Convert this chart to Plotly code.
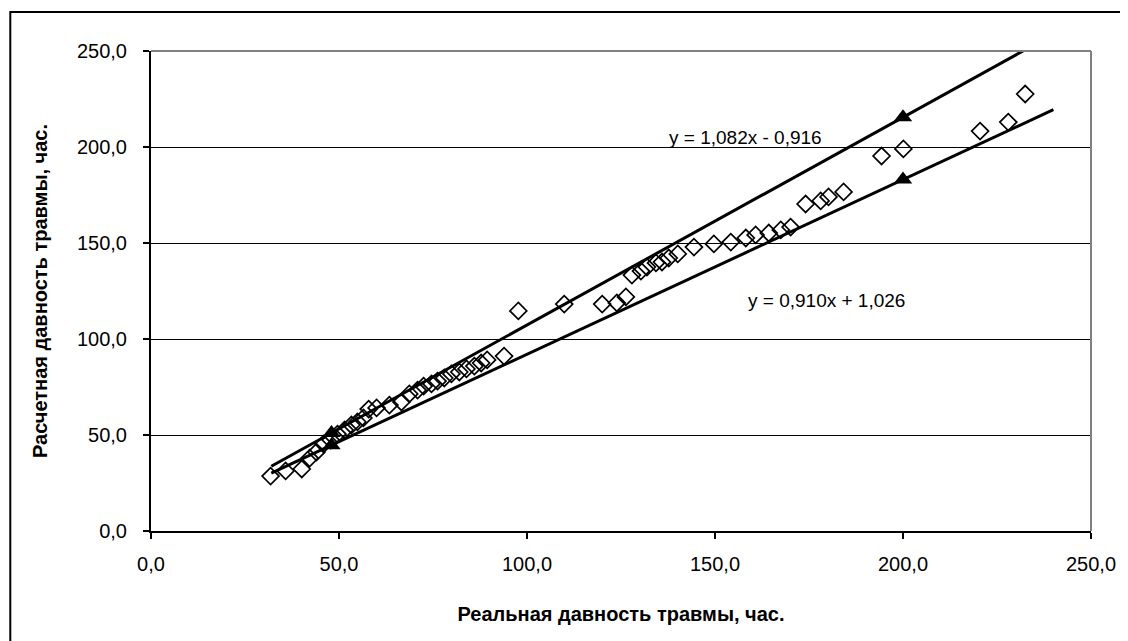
import plotly.graph_objects as go

real_hours = [31.8, 35.8, 40.1, 42.2, 44.0, 45.9, 47.8, 49.6, 51.5, 53.3, 54.9, 56.5, 57.9, 60.0,
              63.4, 66.6, 68.7, 70.9, 72.5, 74.6, 76.2, 78.0, 79.9, 82.0, 83.9, 86.0, 87.8, 89.4,
              93.9, 97.7, 109.9, 120.0, 123.9, 126.3, 127.9, 130.3, 131.9, 134.3, 135.9, 137.7,
              140.1, 144.4, 149.7, 154.2, 158.2, 160.8, 164.3, 167.5, 170.1, 174.1, 178.1, 180.2,
              184.2, 194.3, 200.1, 220.5, 228.0, 232.5]
calc_hours = [28.6, 31.3, 32.3, 38.0, 41.1, 45.3, 47.4, 50.5, 52.6, 55.2, 56.8, 58.9, 63.5, 64.1,
              65.6, 67.2, 71.4, 73.4, 75.5, 76.6, 78.1, 79.7, 81.8, 82.8, 84.4, 85.9, 87.5, 89.1,
              91.1, 114.6, 118.2, 118.2, 118.8, 121.9, 133.3, 135.4, 137.5, 139.6, 140.1, 142.2,
              144.3, 147.9, 149.5, 150.5, 152.6, 154.2, 155.2, 156.8, 158.3, 170.3, 171.9, 174.0,
              176.6, 195.3, 199.0, 208.3, 213.0, 227.6]

upper_slope, upper_icept = 1.082, -0.916
lower_slope, lower_icept = 0.910, 1.026
line_x = [32, 240]
marker_x = [48, 200]
tick_vals = [0, 50, 100, 150, 200, 250]

upper_y = [upper_slope * x + upper_icept for x in line_x]
lower_y = [lower_slope * x + lower_icept for x in line_x]
upper_my = [upper_slope * x + upper_icept for x in marker_x]
lower_my = [lower_slope * x + lower_icept for x in marker_x]

fig = go.Figure()
fig.add_trace(go.Scatter(x=line_x, y=upper_y, mode="lines",
                         line=dict(color="black", width=3), showlegend=False))
fig.add_trace(go.Scatter(x=line_x, y=lower_y, mode="lines",
                         line=dict(color="black", width=3), showlegend=False))
fig.add_trace(go.Scatter(x=real_hours, y=calc_hours, mode="markers",
                         marker=dict(symbol="diamond-open", size=13, color="black",
                                     line=dict(width=1.7, color="black")),
                         showlegend=False))
fig.add_trace(go.Scatter(x=marker_x + marker_x, y=upper_my + lower_my, mode="markers",
                         marker=dict(symbol="triangle-up", size=16, color="black"),
                         showlegend=False))

fig.add_annotation(x=137.2, y=205.2, text="y = 1,082x - 0,916", showarrow=False,
                   xanchor="left", yanchor="middle", font=dict(size=19, color="black"))
fig.add_annotation(x=158.2, y=120.3, text="y = 0,910x + 1,026", showarrow=False,
                   xanchor="left", yanchor="middle", font=dict(size=19, color="black"))

# outer chart frame
fig.add_shape(type="rect", xref="paper", yref="paper",
              x0=(10 - 151) / 942, x1=(1140 - 151) / 942,
              y0=(531 - 650) / 480, y1=(531 - 12) / 480,
              line=dict(color="black", width=2), layer="below")
# top and right plot border (gray)
fig.add_shape(type="line", xref="paper", yref="paper", x0=0, x1=1, y0=1, y1=1,
              line=dict(color="#808080", width=2))
fig.add_shape(type="line", xref="paper", yref="paper", x0=1, x1=1, y0=0, y1=1,
              line=dict(color="#808080", width=2))

fig.update_layout(
    width=1120, height=633,
    margin=dict(l=143, r=35, t=43, b=110),
    paper_bgcolor="white", plot_bgcolor="white",
    separators=", ",
    font=dict(family="Liberation Sans, Arial, sans-serif", size=20, color="black"),
    xaxis=dict(range=[0, 250], tickvals=tick_vals, tickformat=".1f",
               showgrid=False, zeroline=False, showline=True, linecolor="black", linewidth=2,
               ticks="outside", ticklen=6, tickcolor="black", tickwidth=1.5,
               ticklabelstandoff=8,
               title=dict(text="<b>Реальная давность травмы, час.</b>", standoff=33,
                          font=dict(size=20))),
    yaxis=dict(range=[0, 250], tickvals=tick_vals, tickformat=".1f",
               showgrid=True, gridcolor="black", gridwidth=1.3, zeroline=False,
               showline=True, linecolor="black", linewidth=2,
               ticks="outside", ticklen=6, tickcolor="black", tickwidth=1.5,
               ticklabelstandoff=12,
               title=dict(text="<b>Расчетная давность травмы, час.</b>", standoff=24,
                          font=dict(size=20))),
)

fig.write_html("out.html")
